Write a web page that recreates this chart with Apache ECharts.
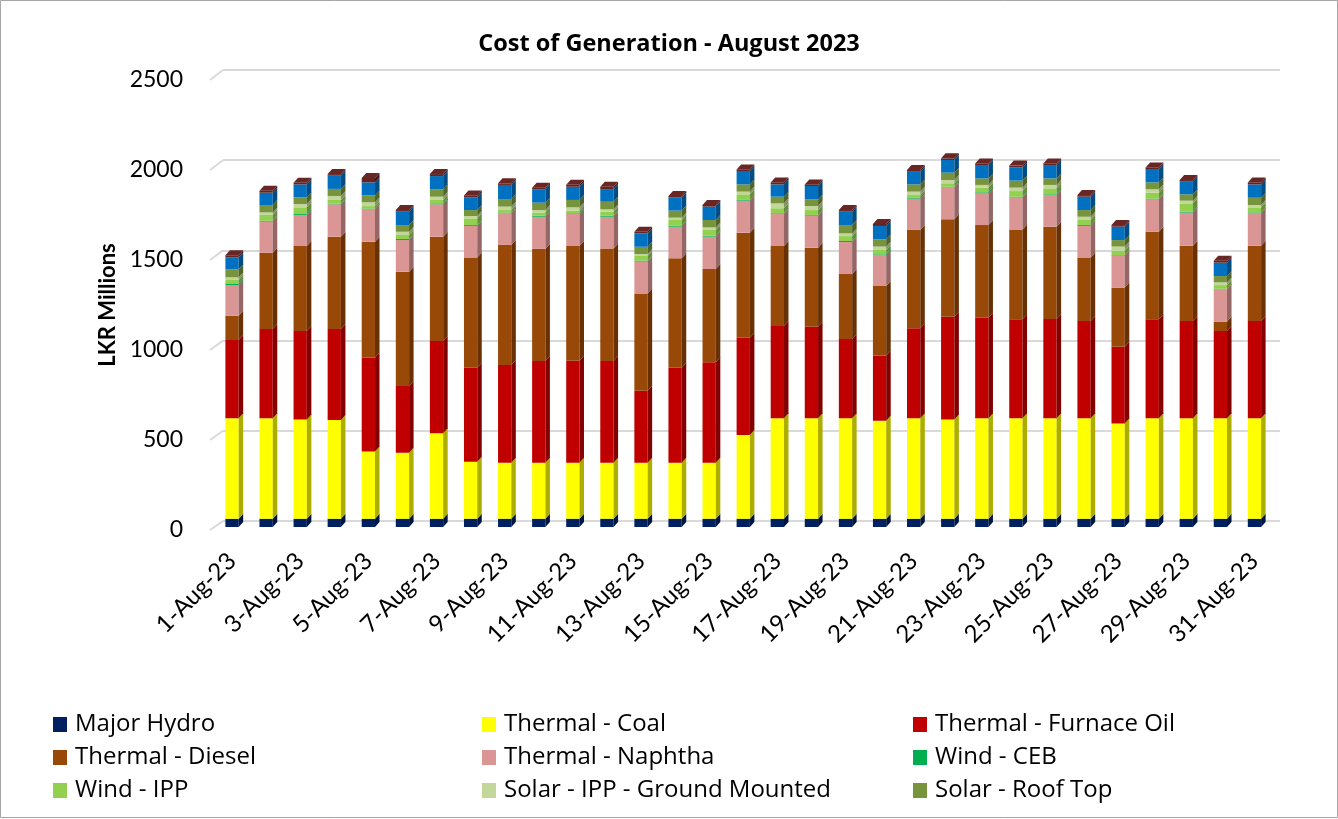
<!DOCTYPE html>
<html>
<head>
<meta charset="utf-8">
<script src="https://cdn.jsdelivr.net/npm/echarts@6/dist/echarts.min.js"></script>
<style>
  html, body { margin: 0; padding: 0; background: #fff; }
  #chart { width: 1338px; height: 819px; }
</style>
</head>
<body>
<div id="chart"></div>
<script>
// categories
var days = ['1-Aug-23','2-Aug-23','3-Aug-23','4-Aug-23','5-Aug-23','6-Aug-23','7-Aug-23','8-Aug-23',
  '9-Aug-23','10-Aug-23','11-Aug-23','12-Aug-23','13-Aug-23','14-Aug-23','15-Aug-23','16-Aug-23',
  '17-Aug-23','18-Aug-23','19-Aug-23','20-Aug-23','21-Aug-23','22-Aug-23','23-Aug-23','24-Aug-23',
  '25-Aug-23','26-Aug-23','27-Aug-23','28-Aug-23','29-Aug-23','30-Aug-23','31-Aug-23'];

// LKR Millions
var majorHydro = [46,46,46,46,46,46,46,46,46,46,46,46,46,46,46,46,46,46,46,46,46,46,46,46,46,46,46,46,46,46,46];
var coal       = [555,555,549,546,371,365,472,315,310,310,310,310,310,310,310,463,555,555,555,542,555,549,555,555,555,555,527,555,555,555,555];
var furnaceOil = [433,494,489,503,521,369,511,520,540,562,564,562,398,525,555,538,511,507,439,360,498,568,557,548,549,538,424,548,538,483,538];
var diesel     = [135,422,470,511,640,632,577,609,664,620,634,623,538,605,516,581,442,437,359,385,544,539,512,497,511,351,327,484,417,52,417];
var naphtha    = [169,172,172,179,179,175,179,175,175,178,177,175,176,175,179,177,177,177,177,170,173,177,175,177,175,175,177,179,183,179,179];
var windCEB    = [6,5,5,3,4,6,5,5,4,6,4,6,5,6,5,4,4,4,6,5,6,3,6,4,4,5,3,4,5,3,5];
var windIPP    = [22,32,37,21,14,22,19,37,14,17,15,22,26,31,32,31,28,27,27,24,14,19,26,31,33,28,24,33,46,20,28];
var solarGM    = [15,14,18,22,21,18,18,13,19,14,18,13,11,13,14,15,27,22,15,19,19,18,15,19,19,18,23,19,15,15,13];
var roofTop    = [44,41,37,39,38,37,41,33,42,41,41,42,40,39,41,40,37,37,46,40,40,41,36,39,36,37,36,38,35,35,40];
var miniHydro  = [67,68,72,73,72,74,73,70,78,74,73,70,74,72,74,74,68,74,74,74,70,70,74,73,74,74,74,74,70,74,74];
var biomass    = [11,11,9,9,25,9,11,11,9,9,11,13,9,9,9,9,11,9,9,11,10,9,9,10,9,9,9,9,9,11,11];

var yTicks = [0, 500, 1000, 1500, 2000, 2500];

var seriesNames = ['Major Hydro','Thermal - Coal','Thermal - Furnace Oil','Thermal - Diesel','Thermal - Naphtha',
  'Wind - CEB','Wind - IPP','Solar - IPP - Ground Mounted','Solar - Roof Top','Mini Hydro','Biomass'];
var seriesData = [majorHydro, coal, furnaceOil, diesel, naphtha, windCEB, windIPP, solarGM, roofTop, miniHydro, biomass];
var colors = ['#002060','#FFFF00','#C00000','#984807','#DA9694','#00B050','#92D050','#C4D79B','#77933C','#0070C0','#632523'];

var FONT = 'Lato';

function shade(hex, f) {
  var n = parseInt(hex.slice(1), 16);
  var r = Math.min(255, Math.round(((n >> 16) & 255) * f)),
      g = Math.min(255, Math.round(((n >> 8) & 255) * f)),
      b = Math.min(255, Math.round((n & 255) * f));
  return 'rgb(' + r + ',' + g + ',' + b + ')';
}

// stack bottoms / tops
var running = days.map(function () { return 0; });
var series = seriesData.map(function (arr, s) {
  var rows = arr.map(function (v, i) {
    var lo = running[i];
    running[i] = lo + v;
    return [i, lo, lo + v];
  });
  var isTop = s === seriesData.length - 1;
  var col = colors[s];
  return {
    type: 'custom',
    name: seriesNames[s],
    xAxisIndex: 0,
    yAxisIndex: 0,
    itemStyle: { color: col },
    encode: { x: 0, y: [1, 2] },
    data: rows,
    renderItem: function (params, api) {
      var i = api.value(0);
      var lo = api.coord([i, api.value(1)]);
      var hi = api.coord([i, api.value(2)]);
      var bw = api.size([1, 0])[0] * 0.39;
      var x0 = lo[0] - bw / 2, x1 = lo[0] + bw / 2;
      var dx = 4.5, dy = 5;
      var kids = [
        { type: 'rect', shape: { x: x0, y: hi[1], width: bw, height: lo[1] - hi[1] }, style: { fill: col } },
        { type: 'polygon', shape: { points: [[x1, lo[1]], [x1 + dx, lo[1] - dy], [x1 + dx, hi[1] - dy], [x1, hi[1]]] },
          style: { fill: shade(col, 0.68) } }
      ];
      if (isTop) {
        kids.push({ type: 'polygon', shape: { points: [[x0, hi[1]], [x0 + dx, hi[1] - dy], [x1 + dx, hi[1] - dy], [x1, hi[1]]] },
          style: { fill: shade(col, 1.05) } });
      }
      return { type: 'group', children: kids };
    }
  };
});

var legendCols = [
  ['Major Hydro', 'Thermal - Diesel', 'Wind - IPP'],
  ['Thermal - Coal', 'Thermal - Naphtha', 'Solar - IPP - Ground Mounted'],
  ['Thermal - Furnace Oil', 'Wind - CEB', 'Solar - Roof Top']
];
var legendLeft = [53, 482, 913];

var chart = echarts.init(document.getElementById('chart'));
chart.setOption({
  animation: false,
  title: {
    text: 'Cost of Generation - August 2023',
    left: 'center', top: 27,
    textStyle: { fontFamily: 'Open Sans', fontWeight: 'bold', fontSize: 23.5, color: '#000' }
  },
  legend: legendCols.map(function (d, k) {
    return {
      data: d, orient: 'vertical', left: legendLeft[k], top: 712, padding: 0,
      itemWidth: 14, itemHeight: 15, itemGap: 8,
      icon: 'rect', selectedMode: false,
      textStyle: { fontFamily: 'Open Sans', fontSize: 24, lineHeight: 25, color: '#000', padding: [0, 0, 0, 3] }
    };
  }),
  grid: [
    { left: 215, right: 66.5, top: 75, bottom: 292 },   // bars
    { left: 223, right: 58, top: 70, bottom: 298 },      // back wall
    { left: 215, right: 66.5, top: 80, bottom: 289 }     // labels
  ],
  xAxis: [
    { type: 'category', gridIndex: 0, data: days, boundaryGap: true,
      axisLine: { show: false }, axisTick: { show: false },
      axisLabel: { interval: 1, rotate: 45, margin: 30, fontFamily: FONT, fontSize: 24, color: '#000' } },
    { type: 'value', gridIndex: 1, show: false },
    { type: 'category', gridIndex: 2, data: days, show: false }
  ],
  yAxis: [
    { type: 'value', gridIndex: 0, min: 0, max: 2500, interval: 500, show: false },
    { type: 'value', gridIndex: 1, min: 0, max: 2500, interval: 500,
      axisLine: { show: false }, axisTick: { show: false }, axisLabel: { show: false },
      splitLine: { lineStyle: { color: '#d9d9d9', width: 2 } } },
    { type: 'value', gridIndex: 2, min: 0, max: 2500, interval: 500,
      axisLine: { show: false }, axisTick: { show: false }, splitLine: { show: false },
      axisLabel: { margin: 32, fontFamily: FONT, fontSize: 23, color: '#000',
        formatter: function (v) { return String(v); } },
      name: 'LKR Millions', nameLocation: 'middle', nameGap: 86,
      nameTextStyle: { fontFamily: FONT, fontWeight: 'bold', fontSize: 22, color: '#000' } }
  ],
  series: series
});

// small slanted links from the front labels to the back wall
var links = yTicks.map(function (v) {
  var yf = chart.convertToPixel({ yAxisIndex: 2 }, v);
  var yb = chart.convertToPixel({ yAxisIndex: 1 }, v);
  return { type: 'line', shape: { x1: 210, y1: yf, x2: 223, y2: yb }, style: { stroke: '#d9d9d9', lineWidth: 2 } };
});
links.push({ type: 'rect', shape: { x: 0.5, y: 0.5, width: 1337, height: 817 }, style: { fill: null, stroke: '#a6a6a6', lineWidth: 1 } });
chart.setOption({ graphic: links });
</script>
</body>
</html>
